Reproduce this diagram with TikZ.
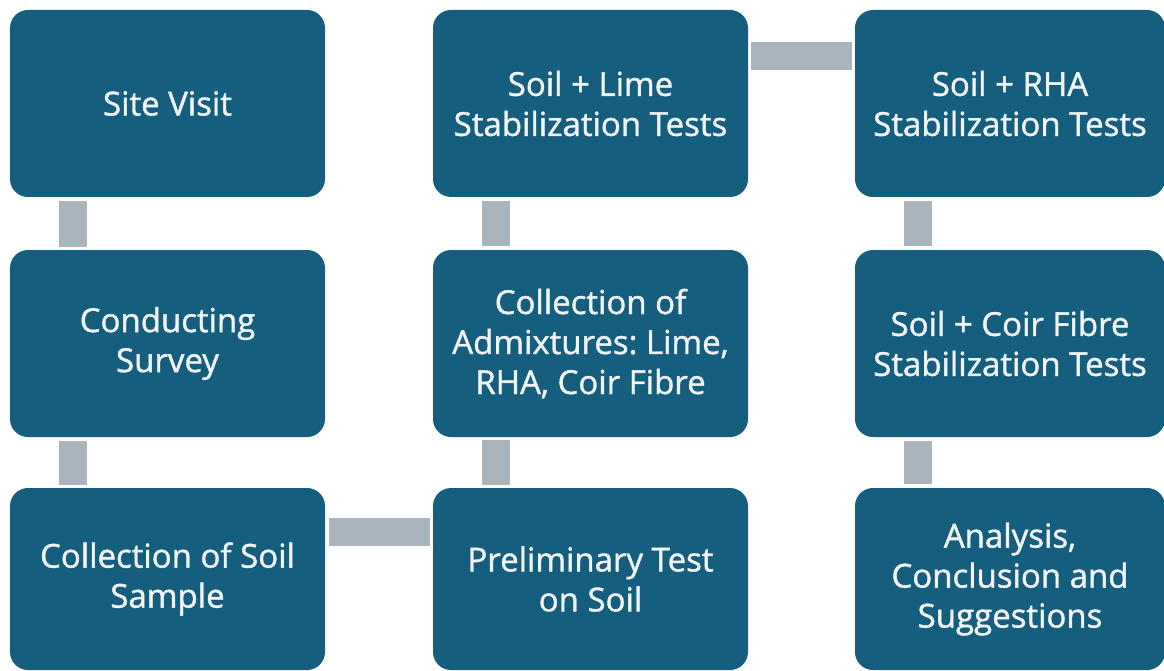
\documentclass[tikz,border=0pt]{standalone}
\usepackage{fontspec}
\setmainfont{Open Sans}[FakeBold=1.2]
\usetikzlibrary{calc}
\frenchspacing
\definecolor{boxblue}{HTML}{165E7E}
\definecolor{linkgray}{HTML}{A9B4BE}
\definecolor{labelwhite}{HTML}{F2F5F7}
\tikzset{
  stage/.style={fill=boxblue, draw=none, rounded corners=18pt, inner sep=0pt,
    text=labelwhite, align=center,
    font=\fontsize{33}{40}\selectfont},
  link/.style={draw=linkgray, line width=28pt, line cap=butt}
}
\begin{document}
\begin{tikzpicture}[x=1pt, y=-1pt]
\useasboundingbox (0,0) rectangle (1164,671);
% column 1
\node[stage, minimum width=315pt, minimum height=187pt] (site) at (167.5,103.5) {Site Visit};
\node[stage, minimum width=315pt, minimum height=187pt] (survey) at (167.5,343.5) {Conducting\\Survey};
\node[stage, minimum width=315pt, minimum height=182pt] (sample) at (167.5,579) {Collection of Soil\\Sample};
% column 2
\node[stage, minimum width=315pt, minimum height=187pt] (lime) at (590.5,103.5) {Soil + Lime\\Stabilization Tests};
\node[stage, minimum width=315pt, minimum height=187pt] (admix) at (590.5,343.5) {Collection of\\Admixtures: Lime,\\RHA, Coir Fibre};
\node[stage, minimum width=315pt, minimum height=182pt] (prelim) at (590.5,579) {Preliminary Test\\on Soil};
% column 3
\node[stage, minimum width=310pt, minimum height=187pt] (rha) at (1010,103.5) {Soil + RHA\\Stabilization Tests};
\node[stage, minimum width=310pt, minimum height=187pt] (coir) at (1010,343.5) {Soil + Coir Fibre\\Stabilization Tests};
\node[stage, minimum width=310pt, minimum height=182pt] (analysis) at (1010,579) {Analysis,\\Conclusion and\\Suggestions};
% vertical links
\draw[link] ($(site.south west)+(63,4)$) -- ($(survey.north west)+(63,-3)$);
\draw[link] ($(survey.south west)+(63,4)$) -- ($(sample.north west)+(63,-3)$);
\draw[link] ($(prelim.north west)+(63,-3)$) -- ($(admix.south west)+(63,3)$);
\draw[link] ($(admix.north west)+(63,-4)$) -- ($(lime.south west)+(63,4)$);
\draw[link] ($(rha.south west)+(63,4)$) -- ($(coir.north west)+(63,-4)$);
\draw[link] ($(coir.south west)+(63,4)$) -- ($(analysis.north west)+(63,-4)$);
% horizontal links
\draw[link] ($(sample.north east)+(4,44.5)$) -- ($(prelim.north west)+(-3,44.5)$);
\draw[link] ($(lime.north east)+(3,46.5)$) -- ($(rha.north west)+(-3,46.5)$);
\end{tikzpicture}
\end{document}
